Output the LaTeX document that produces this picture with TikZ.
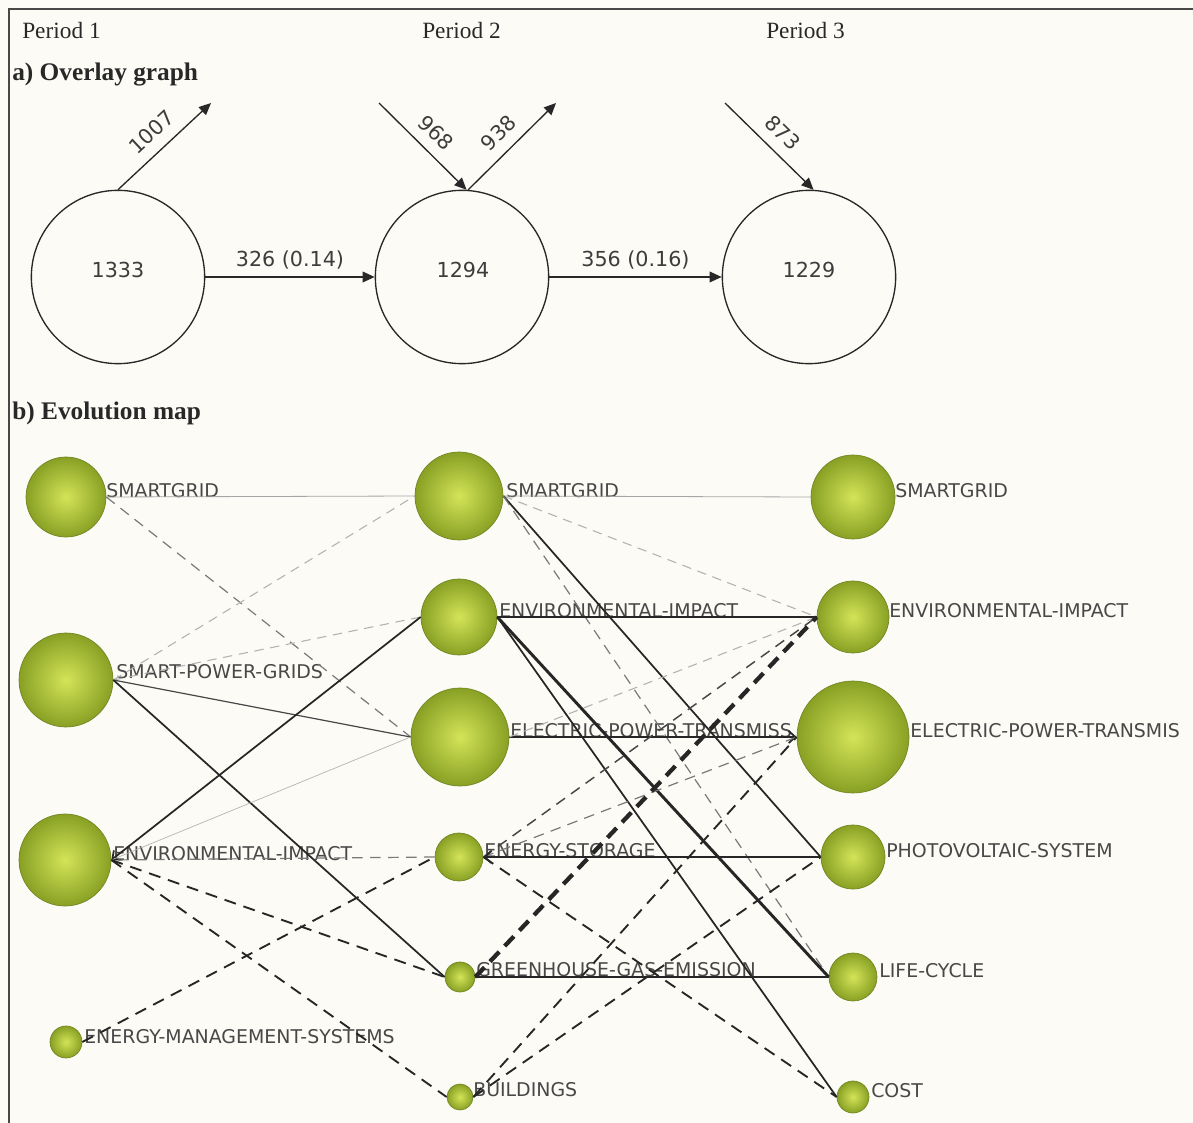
\documentclass[tikz,border=0pt]{standalone}
\usepackage{fontspec}
\setmainfont{Liberation Serif}
\newfontfamily\sansdj{DejaVu Sans}
\usetikzlibrary{arrows.meta}
\definecolor{bgc}{RGB}{252,251,245}
\definecolor{ink}{RGB}{40,40,40}
\definecolor{labc}{RGB}{72,72,72}
\definecolor{edgec}{RGB}{38,38,38}
\definecolor{ballin}{RGB}{212,228,88}
\definecolor{ballout}{RGB}{136,160,36}
\definecolor{ballrim}{RGB}{112,134,34}
\newcommand{\lblfont}{\sansdj\fontsize{14.2}{16}\selectfont}
\newcommand{\onumfont}{\sansdj\fontsize{15.5}{18}\selectfont}
\tikzset{
  ptitle/.style={anchor=base west, inner sep=0pt, font=\fontsize{17.5}{20}\selectfont, text=ink},
  stitle/.style={anchor=base west, inner sep=0pt, font=\bfseries\fontsize{19}{22}\selectfont, text=ink},
  ocirc/.style={circle, draw=ink, line width=1pt, minimum size=130pt, inner sep=0pt},
  oarr/.style={draw=ink, line width=1pt, -{Triangle[length=9pt,width=8pt]}},
  olab/.style={font=\onumfont, text=ink!90, inner sep=2pt},
  greenball/.style={circle, inner sep=0pt, draw=ballrim, line width=0.5pt, inner color=ballin, outer color=ballout},
  lab/.style={anchor=base west, inner sep=0pt, font=\lblfont, text=labc},
  thinsolid/.style={draw=gray!70, line width=0.6pt},
  lightsolid/.style={draw=gray!60, line width=0.5pt},
  lightdash/.style={draw=gray!60, line width=0.8pt, dash pattern=on 7pt off 5pt},
  graydash/.style={draw=gray!95!black, line width=0.9pt, dash pattern=on 8pt off 5.5pt},
  midsolid/.style={draw=edgec!85, line width=0.9pt},
  darksolid/.style={draw=edgec, line width=1.3pt},
  thicksolid/.style={draw=edgec, line width=2.2pt},
  darkdash/.style={draw=edgec, line width=1.4pt, dash pattern=on 9pt off 6pt},
  darkdashthin/.style={draw=edgec!85, line width=1.1pt, dash pattern=on 8pt off 5.5pt},
  heavydash/.style={draw=edgec, line width=3.2pt, dash pattern=on 10pt off 6pt},
  tipend/.style={-{Straight Barb[length=5pt,width=9pt]}}
}
\begin{document}
\begin{tikzpicture}[x=0.75pt,y=-0.75pt]
\fill[bgc] (0,0) rectangle (1193,1123);
\useasboundingbox (0,0) rectangle (1193,1123);
\draw[ink!85, line width=1.5pt] (9,1123) -- (9,9) -- (1193,9);

% titles
\node[ptitle] (per1) at (22,39) {Period 1};
\node[ptitle] (per2) at (422,39) {Period 2};
\node[ptitle] (per3) at (766,39) {Period 3};
\node[stitle] (ta) at (12,81) {a) Overlay graph};
\node[stitle] (tb) at (12,420) {b) Evolution map};

% overlay graph
\node[ocirc] (c1) at (118,277) {};
\node[olab] (n1) at (118,270) {1333};
\node[ocirc] (c2) at (462,277) {};
\node[olab] (n2) at (463,270) {1294};
\node[ocirc] (c3) at (809,277) {};
\node[olab] (n3) at (809,270) {1229};
\draw[oarr] (c1.east) -- (c2.west) node[midway, above=3pt, olab] {326 (0.14)};
\draw[oarr] (c2.east) -- (c3.west) node[midway, above=3pt, olab] {356 (0.16)};
\coordinate (o1007) at (211,103);
\coordinate (o968) at (379,103);
\coordinate (o938) at (556,103);
\coordinate (o873) at (725,103);
\draw[oarr] (c1.north) -- (o1007) node[pos=0.5, sloped, above=6pt, olab] {1007};
\draw[oarr] (o968) -- (c2.87) node[pos=0.5, sloped, above=6pt, olab] {968};
\draw[oarr] (c2.86) -- (o938) node[pos=0.5, sloped, above=6pt, olab] {938};
\draw[oarr] (o873) -- (c3.87) node[pos=0.5, sloped, above=6pt, olab] {873};

% evolution map: balls
\node[greenball, minimum size=60pt] (sg1) at (66,497) {};
\node[greenball, minimum size=70.5pt] (spg1) at (66,680) {};
\node[greenball, minimum size=69pt] (en1) at (65,860) {};
\node[greenball, minimum size=24pt] (ems1) at (66,1042) {};
\node[greenball, minimum size=66pt] (sg2) at (459,496) {};
\node[greenball, minimum size=57pt] (en2) at (459,617) {};
\node[greenball, minimum size=73.5pt] (el2) at (460,737) {};
\node[greenball, minimum size=36pt] (es2) at (459,857) {};
\node[greenball, minimum size=22.5pt] (gh2) at (460,977) {};
\node[greenball, minimum size=19.5pt] (bd2) at (460,1097) {};
\node[greenball, minimum size=63pt] (sg3) at (853,497) {};
\node[greenball, minimum size=54pt] (en3) at (853,617) {};
\node[greenball, minimum size=84pt] (el3) at (853,737) {};
\node[greenball, minimum size=48pt] (pv3) at (853,857) {};
\node[greenball, minimum size=36pt] (lc3) at (853,977) {};
\node[greenball, minimum size=24pt] (co3) at (853,1097) {};

% labels
\node[lab] (sg1l) at (106,497) {SMARTGRID};
\node[lab] (spg1l) at (116,678) {SMART-POWER-GRIDS};
\node[lab] (en1l) at (113,860) {ENVIRONMENTAL-IMPACT};
\node[lab] (ems1l) at (84,1043) {ENERGY-MANAGEMENT-SYSTEMS};
\node[lab] (sg2l) at (506,497) {SMARTGRID};
\node[lab] (en2l) at (499,617) {ENVIRONMENTAL-IMPACT};
\node[lab] (el2l) at (510,737) {ELECTRIC-POWER-TRANSMISS};
\node[lab] (es2l) at (484,857) {ENERGY-STORAGE};
\node[lab] (gh2l) at (476,976) {GREENHOUSE-GAS-EMISSION};
\node[lab] (bd2l) at (473,1096) {BUILDINGS};
\node[lab] (sg3l) at (895,497) {SMARTGRID};
\node[lab] (en3l) at (889,617) {ENVIRONMENTAL-IMPACT};
\node[lab] (el3l) at (910,737) {ELECTRIC-POWER-TRANSMIS};
\node[lab] (pv3l) at (886,857) {PHOTOVOLTAIC-SYSTEM};
\node[lab] (lc3l) at (879,977) {LIFE-CYCLE};
\node[lab] (co3l) at (871,1097) {COST};

% edges period 1 -> period 2
\draw[thinsolid] (sg1.east) -- (sg2.west);
\draw[graydash] (sg1.east) -- (el2.west);
\draw[lightdash] (spg1.east) -- (sg2.west);
\draw[lightdash] (spg1.east) -- (en2.west);
\draw[midsolid] (spg1.east) -- (el2.west);
\draw[darksolid] (spg1.east) -- (gh2.west);
\draw[darksolid, tipend] (en2.west) -- (en1.east);
\draw[lightsolid] (el2.west) -- (en1.east);
\draw[graydash] (es2.west) -- (en1.east);
\draw[darkdash] (en1.east) -- (gh2.west);
\draw[darkdash] (en1.east) -- (bd2.west);
\draw[darkdash] (ems1.east) -- (es2.west);

% edges period 2 -> period 3
\draw[thinsolid] (sg2.east) -- (sg3.west);
\draw[lightdash] (sg2.east) -- (en3.west);
\draw[darksolid] (sg2.east) -- (pv3.west);
\draw[graydash] (sg2.east) -- (lc3.west);
\draw[darksolid] (en2.east) -- (co3.west);
\draw[thicksolid] (en2.east) -- (lc3.west);
\draw[darksolid] (en2.east) -- (en3.west);
\draw[darksolid, tipend] (el2.east) -- (el3.west);
\draw[lightdash] (el2.east) -- (en3.west);
\draw[darkdashthin] (es2.east) -- (en3.west);
\draw[graydash] (es2.east) -- (el3.west);
\draw[heavydash] (gh2.east) -- (en3.west);
\draw[darksolid] (gh2.east) -- (lc3.west);
\draw[darksolid, tipend] (pv3.west) -- (es2.east);
\draw[darkdash] (bd2.east) -- (el3.west);
\draw[darkdash] (bd2.east) -- (pv3.west);
\draw[darkdash] (es2.east) -- (co3.west);
\end{tikzpicture}
\end{document}
